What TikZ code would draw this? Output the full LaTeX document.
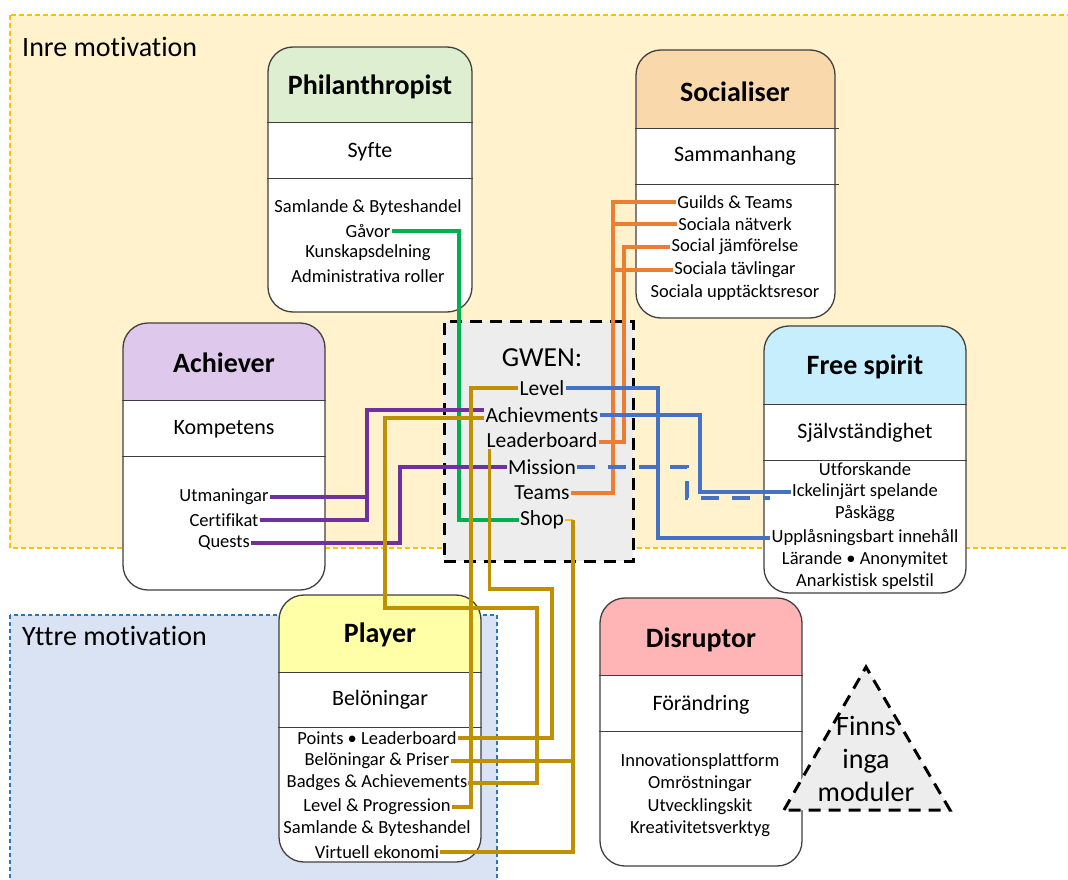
\documentclass[tikz,border=0pt]{standalone}
\usepackage{fontspec}
\setmainfont{Carlito}[Ligatures=NoCommon]
\usetikzlibrary{calc}
\definecolor{boxline}{HTML}{3F3F3F}
\definecolor{inrefill}{HTML}{FFF2CC}
\definecolor{inreline}{HTML}{FFC000}
\definecolor{yttrefill}{HTML}{DAE3F3}
\definecolor{yttreline}{HTML}{2E75B6}
\definecolor{gwenfill}{HTML}{EDEDED}
\definecolor{hphil}{HTML}{DDEFD0}
\definecolor{hsoc}{HTML}{F9D8AC}
\definecolor{hach}{HTML}{DEC9EC}
\definecolor{hfree}{HTML}{C6EEFC}
\definecolor{hplay}{HTML}{FFFFA8}
\definecolor{hdis}{HTML}{FFB5B5}
\definecolor{cgreen}{HTML}{00B050}
\definecolor{corange}{HTML}{ED7D31}
\definecolor{cpurple}{HTML}{7030A0}
\definecolor{cblue}{HTML}{4472C4}
\definecolor{cgold}{HTML}{BF9000}
\newcommand\pbox[9]{%
  \node[pb, minimum width=#4pt, minimum height=#5pt,
    path picture={\fill[#8, sharp corners] (path picture bounding box.north west) rectangle ++(#4,#6);}] (#1) at (#2,#3) {};
  \draw[sep] ($(#1.north west)+(0,#6)$) -- ($(#1.north east)+(#9,#6)$);
  \draw[sep] ($(#1.north west)+(0,#6+#7)$) -- ($(#1.north east)+(#9,#6+#7)$);
}
\begin{document}
\begin{tikzpicture}[x=1pt,y=-1pt,
  pb/.style={draw=boxline, line width=1.3pt, fill=white, rounded corners=25pt, inner sep=0pt},
  sep/.style={draw=boxline, line width=1.2pt},
  ttl/.style={font=\fontsize{28}{32}\selectfont\bfseries, inner sep=1pt},
  subt/.style={font=\fontsize{22}{26}\selectfont, inner sep=1pt},
  itm/.style={font=\fontsize{18.5}{22}\selectfont, inner sep=1pt},
  gw/.style={font=\fontsize{21.5}{25}\selectfont, inner sep=1pt},
  region/.style={font=\fontsize{28}{32}\selectfont, anchor=west, inner sep=0pt},
  conn/.style={line width=3.5pt},
  bigdash/.style={draw=black, line width=3pt, dash pattern=on 12pt off 8pt, fill=gwenfill},
]
\useasboundingbox (0,0) rectangle (1068,880);
% regions
\path[fill=inrefill, draw=inreline, line width=1.2pt, dash pattern=on 5pt off 3pt] (10,15) rectangle (1080,548);
\node[region] (inre) at (22,47) {Inre motivation};
\path[fill=yttrefill, draw=yttreline, line width=1.2pt, dash pattern=on 4pt off 3pt] (10,615) rectangle (497,895);
\node[region] (yttre) at (22,636) {Yttre motivation};
% GWEN box
\node[bigdash, minimum width=189pt, minimum height=240pt, inner sep=0pt] (gwen) at (538.5,441) {};
\node[font=\fontsize{27.5}{30}\selectfont, inner sep=1pt] (gwT) at (542,358) {GWEN:};
\node[gw] (lvl) at (542,388) {Level};
\node[gw] (ach) at (542,415) {Achievments};
\node[gw] (ldb) at (542,440) {Leaderboard};
\node[gw] (mis) at (542,467) {Mission};
\node[gw] (tea) at (542,493) {Teams};
\node[gw] (shop) at (542,520) {Shop};
% persona boxes
\pbox{phil}{370}{179.5}{204}{265}{76}{56}{hphil}{0}
\node[ttl] (phT) at (370,87) {Philanthropist};
\node[subt] (phS) at (370,152) {Syfte};
\node[itm] (ph1) at (368,208) {Samlande \& Byteshandel};
\node[itm] (gav) at (368,231) {Gåvor};
\node[itm] (ph3) at (368,253) {Kunskapsdelning};
\node[itm] (ph4) at (368,276) {Administrativa roller};

\pbox{soc}{735.5}{184}{199}{268}{79}{56}{hsoc}{3}
\node[ttl] (soT) at (735,92) {Socialiser};
\node[subt] (soS) at (735,156) {Sammanhang};
\node[itm] (gui) at (735,202) {Guilds \& Teams};
\node[itm] (nat) at (735,224) {Sociala nätverk};
\node[itm] (jam) at (735,247) {Social jämförelse};
\node[itm] (tav) at (735,270) {Sociala tävlingar};
\node[itm] (so5) at (735,293) {Sociala upptäcktsresor};

\pbox{achv}{224}{456.5}{202}{267}{78}{56}{hach}{0}
\node[ttl] (acT) at (224,363) {Achiever};
\node[subt] (acS) at (224,429) {Kompetens};
\node[itm] (utm) at (224,497) {Utmaningar};
\node[itm] (cer) at (224,520) {Certifikat};
\node[itm] (que) at (224,543) {Quests};

\pbox{free}{865}{459.5}{202}{267}{79}{56}{hfree}{0}
\node[ttl] (frT) at (865,367) {Free spirit};
\node[subt] (frS) at (865,433) {Självständighet};
\node[itm] (utf) at (865,469) {Utforskande};
\node[itm] (ick) at (865,492) {Ickelinjärt spelande};
\node[itm] (pas) at (865,514) {Påskägg};
\node[itm] (upp) at (865,538) {Upplåsningsbart innehåll};
\node[itm] (lar) at (865,560) {Lärande • Anonymitet};
\node[itm] (ana) at (865,582) {Anarkistisk spelstil};

\pbox{play}{380}{728.5}{202}{267}{78}{55}{hplay}{0}
\node[ttl] (plT) at (380,635) {Player};
\node[subt] (plS) at (380,700) {Belöningar};
\node[itm] (pts) at (377,738) {Points • Leaderboard};
\node[itm] (bel) at (377,761) {Belöningar \& Priser};
\node[itm] (bad) at (377,783) {Badges \& Achievements};
\node[itm] (lp) at (377,807) {Level \& Progression};
\node[itm] (sam) at (377,829) {Samlande \& Byteshandel};
\node[itm] (vir) at (377,852) {Virtuell ekonomi};

\pbox{dis}{701}{732}{202}{268}{78}{56}{hdis}{0}
\node[ttl] (diT) at (701,640) {Disruptor};
\node[subt] (diS) at (701,705) {Förändring};
\node[itm] (di1) at (700,762) {Innovationsplattform};
\node[itm] (di2) at (700,784) {Omröstningar};
\node[itm] (di3) at (700,807) {Utvecklingskit};
\node[itm] (di4) at (700,829) {Kreativitetsverktyg};

% triangle
\draw[bigdash, line join=miter] (784,810) -- (866,667) -- (950,810) -- cycle;
\node[font=\fontsize{28}{33}\selectfont, align=center, inner sep=0pt] (fim) at (866,759) {Finns\\inga\\moduler};

% helper coordinates
\coordinate (ox) at (613,0);
\coordinate (oxi) at (624,0);
\coordinate (px) at (367,0);
\coordinate (px2) at (400,0);
\coordinate (bx1) at (658,0);
\coordinate (bx2) at (700,0);
\coordinate (bx3) at (687,0);
\coordinate (dend) at (770,498);
\coordinate (gx1) at (471,0);
\coordinate (gx3) at (537,0);
\coordinate (gx4) at (573,0);

% green
\draw[conn, cgreen] (gav.east) -| (459,520) -- (shop.west);
% orange
\draw[conn, corange] (gui.west) -| (tea.east -| ox) -- (tea.east);
\draw[conn, corange] (nat.west) -- (nat.west -| ox);
\draw[conn, corange] (tav.west) -- (tav.west -| ox);
\draw[conn, corange] (jam.west) -| ($(ldb.east -| oxi)+(0,2)$) -- ($(ldb.east)+(0,2)$);
% purple
\draw[conn, cpurple] (utm.east) -- (utm.east -| px);
\draw[conn, cpurple] (cer.east) -| ($(ach.west -| px)+(0,-5)$) -- ($(ach.west)+(0,-5)$);
\draw[conn, cpurple] (mis.west) -| (que.east -| px2) -- (que.east);
% blue
\draw[conn, cblue] (lvl.east) -| (upp.west -| bx1) -- (upp.west);
\draw[conn, cblue] (ach.east) -| (ick.west -| bx2) -- (ick.west);
\draw[conn, cblue, dash pattern=on 18pt off 13pt] (mis.east) -| (dend -| bx3) -- (dend);
% gold
\draw[conn, cgold] (lvl.west) -| (lp.east -| gx1) -- (lp.east);
\draw[conn, cgold] ($(ach.west)+(0,3)$) -| (385,608) -| (bad.east -| gx3) -- (bad.east);
\draw[conn, cgold] ($(ldb.south west)+(4,0)$) |- (552,589) |- (pts.east);
\draw[line width=2pt, inreline] (shop.east) -- (shop.east -| gx4);
\draw[conn, cgold] (shop.east -| gx4) |- (vir.east);
\draw[conn, cgold] (bel.east) -- (bel.east -| gx4);
\end{tikzpicture}
\end{document}
